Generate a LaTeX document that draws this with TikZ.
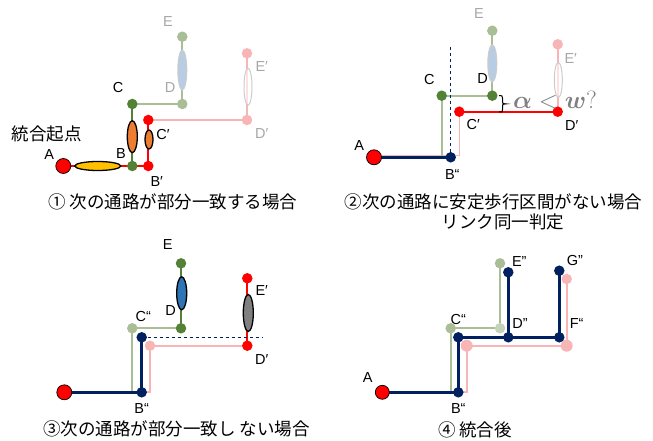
\documentclass[tikz,border=0pt]{standalone}
\usepackage{fontspec}
\usepackage{bm}
\setmainfont{Liberation Sans}
\newfontfamily\jp{Noto Sans CJK JP}
\usetikzlibrary{shapes.geometric}
\definecolor{grn}{HTML}{538135}
\definecolor{lgrn}{HTML}{A9BE97}
\definecolor{llgrn}{HTML}{C5D3B8}
\definecolor{rd}{HTML}{FF0000}
\definecolor{pnk}{HTML}{F7B5B5}
\definecolor{nvy}{HTML}{002060}
\definecolor{org}{HTML}{ED7D31}
\definecolor{ylw}{HTML}{FFC000}
\definecolor{blu}{HTML}{2E75B6}
\definecolor{lblu}{HTML}{B8CCE4}
\definecolor{lgry}{HTML}{A6A6A6}
\tikzset{
  pt/.style = {circle, inner sep=0pt, minimum size=10.5pt},
  gpt/.style = {pt, fill=grn},
  lgpt/.style = {pt, fill=lgrn},
  rpt/.style = {pt, fill=rd},
  ppt/.style = {pt, fill=pnk},
  npt/.style = {pt, fill=nvy},
  startpt/.style = {circle, inner sep=0pt, minimum size=15pt, fill=rd,
    draw=black, line width=0.7pt},
  ell/.style = {ellipse, inner sep=0pt, draw=black, line width=1.3pt},
  fell/.style = {ellipse, inner sep=0pt, draw=black!20, line width=1pt},
  gline/.style = {grn, line width=1.8pt},
  lgline/.style = {lgrn, line width=1.8pt},
  rline/.style = {rd, line width=1.8pt},
  pline/.style = {pnk, line width=1.8pt},
  nline/.style = {nvy, line width=2.8pt},
  dline/.style = {nvy, dashed, line width=0.7pt},
  lbl/.style = {font=\fontsize{14.5}{16}\selectfont, inner sep=0pt},
  flbl/.style = {lbl, text=lgry},
  captext/.style = {font=\jp\fontsize{17.5}{20}\selectfont, inner sep=0pt}}

\begin{document}
\begin{tikzpicture}[x=1pt,y=-1pt]
\useasboundingbox (0,0) rectangle (653,441);

% (1) partial match
\coordinate (p1A) at (63.3,166);
\coordinate (p1B) at (132.3,166);
\coordinate (p1Bp) at (148.3,166);
\coordinate (p1C) at (132.3,104);
\coordinate (p1Cp) at (148.3,120);
\coordinate (p1D) at (182.3,104);
\coordinate (p1E) at (182.3,36.7);
\coordinate (p1Dp) at (247,120);
\coordinate (p1Ep) at (247,53.3);
\draw[pline] (p1Cp) -- (p1Dp) -- (p1Ep);
\draw[rline] (p1A) -- (p1Bp) -- (p1Cp);
\draw[lgline] (p1C) -- (p1D) -- (p1E);
\draw[gline] (p1B) -- (p1C);
\node[ell, fill=ylw, minimum width=46, minimum height=9] (p1AB) at (97.8,166) {};
\node[ell, fill=org, minimum width=10, minimum height=32] (p1BC) at (132.3,136.7) {};
\node[ell, fill=org, minimum width=8, minimum height=19] (p1BCp) at (149,139.5) {};
\node[fell, fill=lblu, minimum width=9, minimum height=40] (p1DE) at (182.3,70) {};
\node[fell, fill=white, fill opacity=0.6, minimum width=8, minimum height=37] (p1DEp) at (248,86.7) {};
\node[startpt] (n1A) at (p1A) {};
\node[gpt] (n1B) at (p1B) {};
\node[rpt] (n1Bp) at (p1Bp) {};
\node[gpt] (n1C) at (p1C) {};
\node[rpt] (n1Cp) at (p1Cp) {};
\node[lgpt] (n1D) at (p1D) {};
\node[lgpt] (n1E) at (p1E) {};
\node[ppt] (n1Dp) at (p1Dp) {};
\node[ppt] (n1Ep) at (p1Ep) {};
\node[lbl] at (49.3,154.3) {A};
\node[captext] at (46.7,134.3) {統合起点};
\node[lbl] at (121,154) {B};
\node[lbl] at (156.7,181.7) {B′};
\node[lbl] at (118,88) {C};
\node[lbl] at (163,135) {C′};
\node[flbl] at (170,88) {D};
\node[flbl] at (168,21.7) {E};
\node[flbl] at (261.7,133.3) {D′};
\node[flbl] at (261.7,66.7) {E′};
\node[captext] at (173,201.7) {① 次の通路が部分一致する場合};

% (2) no stable section
\coordinate (p2A) at (374,157.3);
\coordinate (p2B) at (450.7,157.3);
\coordinate (p2pk) at (459.3,155.3);
\coordinate (p2gk) at (441.7,157.3);
\coordinate (p2C) at (441.7,95.7);
\coordinate (p2D) at (492.3,95.7);
\coordinate (p2E) at (492.3,30.7);
\coordinate (p2Cp) at (459.3,111.7);
\coordinate (p2Dp) at (557.7,111.7);
\coordinate (p2Ep) at (557.7,44.3);
\coordinate (p2top) at (450.7,46.7);
\draw[pline, line width=1.3pt] (p2A |- p2pk) -- (p2pk) -- (p2Cp);
\draw[pline] (p2Dp) -- (p2Ep);
\draw[rline] (p2Cp) -- (p2Dp);
\draw[lgline] (p2gk) -- (p2C) -- (p2D) -- (p2E);
\draw[dline] (p2top) -- (p2B);
\draw[nline] (p2A) -- (p2B);
% brace
\draw[line width=1pt] (499,95.7) .. controls (502.5,95.7) .. (502.5,98.5) -- (502.5,101.5)
  .. controls (502.5,103.6) .. (506,103.9) .. controls (502.5,104.2) .. (502.5,106.3)
  -- (502.5,109.3) .. controls (502.5,112) .. (499,112);
\node[fell, fill=lblu, minimum width=9, minimum height=37] (p2DE) at (492.3,63.3) {};
\node[fell, fill=white, fill opacity=0.6, minimum width=8, minimum height=35] (p2DEp) at (558.3,80) {};
\node[startpt] (n2A) at (p2A) {};
\node[npt] (n2B) at (p2B) {};
\node[gpt] (n2C) at (p2C) {};
\node[gpt] (n2D) at (p2D) {};
\node[lgpt] (n2E) at (p2E) {};
\node[rpt] (n2Cp) at (p2Cp) {};
\node[rpt] (n2Dp) at (p2Dp) {};
\node[ppt] (n2Ep) at (p2Ep) {};
\node[inner sep=0pt, text=gray, font=\fontsize{23}{25}\selectfont] at (555,100)
  {$\bm{\alpha} < \bm{w}?$};
\node[lbl] at (359.3,145.7) {A};
\node[lbl] at (452.3,175) {B“};
\node[lbl] at (429.3,80) {C};
\node[lbl] at (482.7,79) {D};
\node[flbl] at (479,13.3) {E};
\node[lbl] at (473.3,125) {C′};
\node[lbl] at (571.7,126) {D′};
\node[flbl] at (570.7,58.3) {E′};
\node[captext] at (493.3,201.7) {②次の通路に安定歩行区間がない場合};
\node[captext] at (503,222) {リンク同一判定};

% (3) no partial match
\coordinate (p3A) at (64.3,392.3);
\coordinate (p3B) at (141.7,392.3);
\coordinate (p3N) at (141.7,337.3);
\coordinate (p3gk) at (132.3,392.3);
\coordinate (p3C) at (132.3,328.3);
\coordinate (p3D) at (181,328.3);
\coordinate (p3E) at (181,263.3);
\coordinate (p3pk) at (150,392.3);
\coordinate (p3P) at (150,345.7);
\coordinate (p3Dp) at (247.3,345.7);
\coordinate (p3Ep) at (247.3,278.3);
\coordinate (p3end) at (263.3,337.3);
\draw[lgline] (p3gk) -- (p3C) -- (p3D);
\draw[gline] (p3D) -- (p3E);
\draw[pline] (p3B) -- (p3pk) -- (p3P) -- (p3Dp);
\draw[rline] (p3Dp) -- (p3Ep);
\draw[nline] (p3A) -- (p3B) -- (p3N);
\draw[dline] (p3N) -- (p3end);
\node[ell, fill=blu, minimum width=10, minimum height=33] (p3DE) at (181.7,293.3) {};
\node[ell, fill=gray, minimum width=10, minimum height=37] (p3DEp) at (248.3,313) {};
\node[startpt] (n3A) at (p3A) {};
\node[npt] (n3B) at (p3B) {};
\node[npt] (n3N) at (p3N) {};
\node[lgpt] (n3C) at (p3C) {};
\node[gpt] (n3D) at (p3D) {};
\node[gpt] (n3E) at (p3E) {};
\node[ppt] (n3P) at (p3P) {};
\node[rpt] (n3Dp) at (p3Dp) {};
\node[rpt] (n3Ep) at (p3Ep) {};
\node[lbl] at (167.7,245) {E};
\node[lbl] at (143.3,316.7) {C“};
\node[lbl] at (170.7,310.7) {D};
\node[lbl] at (261.7,290.7) {E′};
\node[lbl] at (261.7,359.3) {D′};
\node[lbl] at (141.7,408.3) {B“};
\node[captext] at (176.7,429.3) {③次の通路が部分一致し ない場合};

% (4) after merging
\coordinate (p4A) at (382.3,392.3);
\coordinate (p4B) at (458.3,392.3);
\coordinate (p4C) at (458.3,337.3);
\coordinate (p4D) at (508.3,337.3);
\coordinate (p4E) at (508.3,272.3);
\coordinate (p4F) at (559.3,337.3);
\coordinate (p4G) at (559.3,270.7);
\coordinate (p4gk) at (450.7,392.3);
\coordinate (p4g1) at (450.7,328.3);
\coordinate (p4g2) at (500,328.3);
\coordinate (p4g3) at (500,263.3);
\coordinate (p4pk) at (466.7,392.3);
\coordinate (p4p1) at (466.7,345.7);
\coordinate (p4p2) at (566.7,345.7);
\coordinate (p4p3) at (566.7,279);
\draw[lgline] (p4gk) -- (p4g1) -- (p4g2) -- (p4g3);
\draw[pline] (p4B) -- (p4pk) -- (p4p1) -- (p4p2) -- (p4p3);
\draw[nline] (p4A) -- (p4B) -- (p4C) -- (p4F) -- (p4G);
\draw[nline] (p4D) -- (p4E);
\node[lgpt] (n4g1) at (p4g1) {};
\node[pt, fill=llgrn] (n4g2) at (p4g2) {};
\node[lgpt] (n4g3) at (p4g3) {};
\node[ppt, minimum size=12pt] (n4p1) at (p4p1) {};
\node[ppt, minimum size=12pt] (n4p2) at (p4p2) {};
\node[ppt] (n4p3) at (p4p3) {};
\node[startpt, minimum size=14pt] (n4A) at (p4A) {};
\node[npt] (n4B) at (p4B) {};
\node[npt] (n4C) at (p4C) {};
\node[npt] (n4D) at (p4D) {};
\node[npt] (n4E) at (p4E) {};
\node[npt] (n4F) at (p4F) {};
\node[npt] (n4G) at (p4G) {};
\node[lbl] at (367.7,377.7) {A};
\node[lbl] at (458.3,408.3) {B“};
\node[lbl] at (458.3,319.3) {C“};
\node[lbl] at (520,323.3) {D”};
\node[lbl] at (519.3,261.7) {E”};
\node[lbl] at (575,261) {G”};
\node[lbl] at (576.7,324) {F“};
\node[captext] at (475,430) {④ 統合後};
\end{tikzpicture}
\end{document}
